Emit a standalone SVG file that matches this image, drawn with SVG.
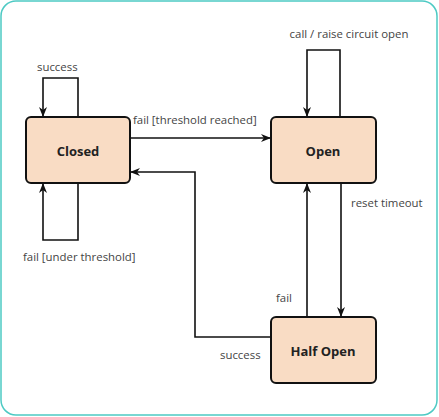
<svg xmlns="http://www.w3.org/2000/svg" width="439" height="417" viewBox="0 0 439 417">
<style>
.frame{fill:#fff;stroke:#4ecac4;stroke-width:1.5}
.node rect{fill:#f9dcc4;stroke:#111;stroke-width:2}
.node text{font-family:"Open Sans","DejaVu Sans",sans-serif;font-size:13px;font-weight:bold;fill:#222;text-anchor:middle}
.edge{fill:none;stroke:#111;stroke-width:1.6;marker-end:url(#arr)}
.lbl{font-family:"Open Sans","DejaVu Sans",sans-serif;font-size:11.4px;fill:#444}
</style>
<defs>
<marker id="arr" viewBox="0 0 10 10" refX="9" refY="5" markerWidth="10" markerHeight="10" markerUnits="userSpaceOnUse" orient="auto">
<path d="M0,1 L10,5 L0,9 L3,5 z" fill="#111"/>
</marker>
</defs>
<rect class="frame" x="1" y="1" width="436" height="414" rx="15"/>
<g id="connectors">
<path class="edge" d="M78,117 V78 H43 V116"/>
<path class="edge" d="M78,183 V240 H43 V184"/>
<path class="edge" d="M130,138 H270"/>
<path class="edge" d="M340,117 V50 H307 V116"/>
<path class="edge" d="M341,183 V316"/>
<path class="edge" d="M307,317 V184"/>
<path class="edge" d="M271,337 H195 V172 H131"/>
</g>
<g id="labels">
<text class="lbl" x="37" y="71">success</text>
<text class="lbl" x="23" y="261">fail [under threshold]</text>
<text class="lbl" x="133" y="124">fail [threshold reached]</text>
<text class="lbl" x="349" y="38" text-anchor="middle">call / raise circuit open</text>
<text class="lbl" x="351" y="207">reset timeout</text>
<text class="lbl" x="276" y="302">fail</text>
<text class="lbl" x="220" y="359">success</text>
</g>
<g id="closed" class="node"><rect x="26" y="117" width="104" height="66" rx="5"/><text x="78" y="156">Closed</text></g>
<g id="open" class="node"><rect x="271" y="117" width="105" height="66" rx="5"/><text x="323" y="156">Open</text></g>
<g id="halfopen" class="node"><rect x="271" y="317" width="105" height="66" rx="5"/><text x="323" y="356">Half Open</text></g>
</svg>
